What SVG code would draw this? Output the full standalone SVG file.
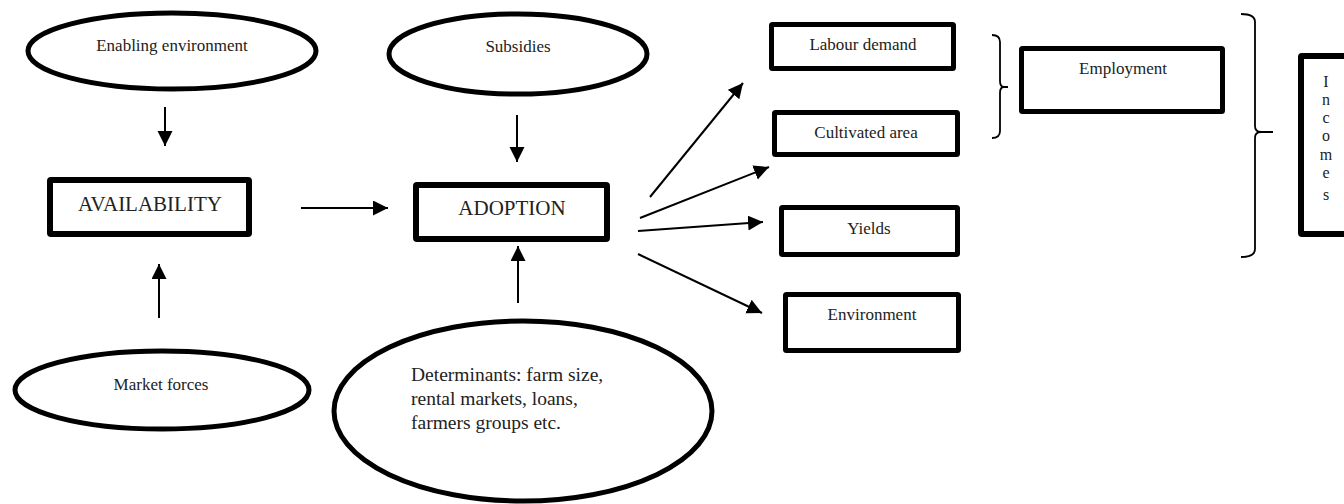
<svg xmlns="http://www.w3.org/2000/svg" width="1344" height="504" viewBox="0 0 1344 504">
<style>
.bg{fill:#fff}
.box{fill:#fff;stroke:#000;stroke-width:5}
.bigbox{fill:#fff;stroke:#000;stroke-width:6}
.ell{fill:#fff;stroke:#000;stroke-width:5}
.t{font-family:"Liberation Serif","Times New Roman",serif;font-size:17px;fill:#222;text-anchor:middle}
.tb{font-family:"Liberation Serif","Times New Roman",serif;font-size:21px;fill:#222;text-anchor:middle}
.td{font-family:"Liberation Serif","Times New Roman",serif;font-size:19.5px;fill:#222}
.ti{font-family:"Liberation Serif","Times New Roman",serif;font-size:16px;fill:#222;text-anchor:middle}
.c{stroke:#000;stroke-width:2;fill:none;marker-end:url(#ah)}
.br{stroke:#000;stroke-width:1.8;fill:none}
</style>
<defs>
<marker id="ah" markerUnits="userSpaceOnUse" markerWidth="16" markerHeight="16" refX="15" refY="7.5" orient="auto">
<path d="M0,0 L15,7.5 L0,15 z" fill="#000"/>
</marker>
</defs>
<rect class="bg" x="0" y="0" width="1344" height="504"/>

<g id="enabling">
<ellipse class="ell" cx="172" cy="51" rx="144" ry="38"/>
<text class="t" x="172" y="51">Enabling environment</text>
</g>
<g id="subsidies">
<ellipse class="ell" cx="518" cy="54" rx="129" ry="40"/>
<text class="t" x="518" y="52">Subsidies</text>
</g>
<g id="availability">
<rect class="bigbox" x="50" y="180" width="199" height="54" rx="1"/>
<text class="tb" x="150" y="211">AVAILABILITY</text>
</g>
<g id="adoption">
<rect class="bigbox" x="416" y="185" width="191" height="54" rx="1"/>
<text class="tb" x="512" y="215">ADOPTION</text>
</g>
<g id="market">
<ellipse class="ell" cx="162" cy="390" rx="147" ry="39"/>
<text class="t" x="161" y="390">Market forces</text>
</g>
<g id="determinants">
<ellipse class="ell" cx="523" cy="411" rx="189" ry="90"/>
<text class="td" x="411" y="381">Determinants: farm size,</text>
<text class="td" x="411" y="405">rental markets, loans,</text>
<text class="td" x="411" y="429">farmers groups etc.</text>
</g>
<g id="labour">
<rect class="box" x="771.5" y="24.5" width="182" height="44" rx="1"/>
<text class="t" x="863" y="50">Labour demand</text>
</g>
<g id="cultivated">
<rect class="box" x="774.5" y="112.5" width="183" height="42" rx="1"/>
<text class="t" x="866" y="138">Cultivated area</text>
</g>
<g id="yields">
<rect class="box" x="781.5" y="207.5" width="176" height="47" rx="1"/>
<text class="t" x="869" y="234">Yields</text>
</g>
<g id="environment">
<rect class="box" x="785.5" y="294.5" width="173" height="56" rx="1"/>
<text class="t" x="872" y="320">Environment</text>
</g>
<g id="employment">
<rect class="box" x="1021.5" y="48.5" width="201" height="63" rx="1"/>
<text class="t" x="1123" y="74">Employment</text>
</g>
<g id="incomes">
<rect class="bigbox" x="1301" y="56" width="60" height="178" rx="1"/>
<text class="ti" x="1326" y="87">I</text>
<text class="ti" x="1326" y="105">n</text>
<text class="ti" x="1326" y="123">c</text>
<text class="ti" x="1326" y="141">o</text>
<text class="ti" x="1326" y="160">m</text>
<text class="ti" x="1326" y="178">e</text>
<text class="ti" x="1326" y="200">s</text>
</g>

<g id="connectors">
<line class="c" x1="165" y1="107" x2="165" y2="146"/>
<line class="c" x1="517" y1="115" x2="517" y2="162"/>
<line class="c" x1="301" y1="208" x2="388" y2="208"/>
<line class="c" x1="159" y1="318" x2="159" y2="264"/>
<line class="c" x1="518" y1="303" x2="518" y2="246"/>
<line class="c" x1="650" y1="197" x2="743" y2="83"/>
<line class="c" x1="640" y1="218" x2="769" y2="167"/>
<line class="c" x1="638" y1="231" x2="763" y2="222"/>
<line class="c" x1="638" y1="254" x2="762" y2="313"/>
<path class="br" d="M992,35 Q1000,35 1000,42 L1000,81 Q1000,87 1004,87 L1008,87 M1004,87 Q1000,87 1000,93 L1000,131 Q1000,138 992,138"/>
<path class="br" d="M1241,14 Q1255,14 1255,22 L1255,126 Q1255,132 1261,132 L1273,132 M1261,132 Q1255,132 1255,138 L1255,249 Q1255,257 1241,257"/>
</g>
</svg>
